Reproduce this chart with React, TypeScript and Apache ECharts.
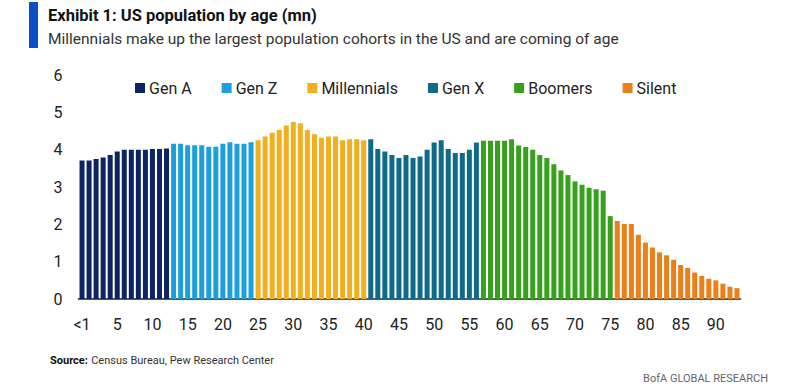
import React, { useEffect, useRef } from "react";
import * as echarts from "echarts";

const ages: string[] = Array.from({ length: 94 }, (_, i) => (i === 0 ? "<1" : String(i)));

const genA = [3.71, 3.71, 3.75, 3.79, 3.86, 3.95, 4.0, 4.0, 4.0, 4.0, 4.02, 4.02, 4.03];
const genZ = [4.16, 4.16, 4.12, 4.12, 4.12, 4.08, 4.08, 4.16, 4.2, 4.16, 4.16, 4.2];
const millennials = [4.25, 4.35, 4.45, 4.53, 4.65, 4.74, 4.71, 4.53, 4.41, 4.32, 4.35, 4.35, 4.25, 4.28, 4.28, 4.25];
const genX = [4.28, 4.02, 3.95, 3.86, 3.78, 3.86, 3.78, 3.82, 4.0, 4.19, 4.25, 4.02, 3.91, 3.91, 4.0, 4.19];
const boomers = [4.24, 4.24, 4.24, 4.24, 4.28, 4.11, 4.07, 4.0, 3.86, 3.78, 3.61, 3.44, 3.32, 3.15, 3.06, 2.98, 2.94, 2.9, 2.22];
const silent = [2.09, 2.01, 2.01, 1.72, 1.51, 1.38, 1.25, 1.17, 1.05, 0.91, 0.83, 0.71, 0.62, 0.54, 0.5, 0.41, 0.33, 0.29];

const groups = [
  { name: "Gen A", values: genA, color: "#0c2461" },
  { name: "Gen Z", values: genZ, color: "#1b9fdf" },
  { name: "Millennials", values: millennials, color: "#f2ae1b" },
  { name: "Gen X", values: genX, color: "#0d6a89" },
  { name: "Boomers", values: boomers, color: "#36a11b" },
  { name: "Silent", values: silent, color: "#ec7f17" },
];

const yTicks = [0, 1, 2, 3, 4, 5, 6];

const FONT = "Roboto, 'Noto Sans', sans-serif";

export default function App() {
  const ref = useRef<HTMLDivElement>(null);
  useEffect(() => {
    document.body.style.margin = "0";
    if (!ref.current) return;
    const chart = echarts.init(ref.current, undefined, { renderer: "svg" });
    let offset = 0;
    const series = groups.map((g) => {
      const data: (number | null)[] = ages.map(() => null);
      g.values.forEach((v, i) => {
        data[offset + i] = v;
      });
      offset += g.values.length;
      return {
        name: g.name,
        type: "bar" as const,
        stack: "all",
        data,
        barWidth: 5,
        itemStyle: { color: g.color },
      };
    });
    chart.setOption({
      animation: false,
      textStyle: { fontFamily: FONT },
      grid: { left: 78.5, right: 52.5, top: 75, bottom: 88, containLabel: false },
      legend: {
        left: 130,
        top: 75,
        itemWidth: 10,
        itemHeight: 10,
        itemGap: 30,
        icon: "rect",
        textStyle: { fontSize: 16, color: "#222", padding: [0, 0, 0, -1], fontFamily: FONT },
        data: groups.map((g) => g.name),
      },
      xAxis: {
        type: "category",
        data: ages,
        axisTick: { show: false },
        axisLine: { lineStyle: { color: "#222", width: 1.5 } },
        axisLabel: { interval: 4, fontSize: 16, color: "#222", margin: 17, fontFamily: FONT },
      },
      yAxis: {
        type: "value",
        min: 0,
        max: yTicks[yTicks.length - 1],
        interval: 1,
        splitLine: { show: false },
        axisLine: { show: false },
        axisTick: { show: false },
        axisLabel: { fontSize: 16, color: "#222", margin: 16, fontFamily: FONT },
      },
      graphic: [
        { type: "rect", left: 29, top: 2, shape: { width: 9, height: 46 }, style: { fill: "#0a50c2" } },
        {
          type: "text",
          left: 48,
          top: 7,
          style: { text: "Exhibit 1: US population by age (mn)", font: `bold 16.5px ${FONT}`, fill: "#111" },
        },
        {
          type: "text",
          left: 48,
          top: 31,
          style: {
            text: "Millennials make up the largest population cohorts in the US and are coming of age",
            font: `15.5px ${FONT}`,
            fill: "#333",
          },
        },
        {
          type: "text",
          left: 50,
          top: 354,
          style: {
            rich: {
              b: { font: `bold 11px ${FONT}`, fill: "#111" },
              n: { font: `11px ${FONT}`, fill: "#333" },
            },
            text: "{b|Source:} {n|Census Bureau, Pew Research Center}",
          },
        },
        {
          type: "text",
          right: 25,
          top: 373,
          style: { text: "BofA GLOBAL RESEARCH", font: `11px ${FONT}`, fill: "#666" },
        },
      ],
      series,
    });
    return () => chart.dispose();
  }, []);
  return <div ref={ref} style={{ width: 793, height: 387 }} />;
}
